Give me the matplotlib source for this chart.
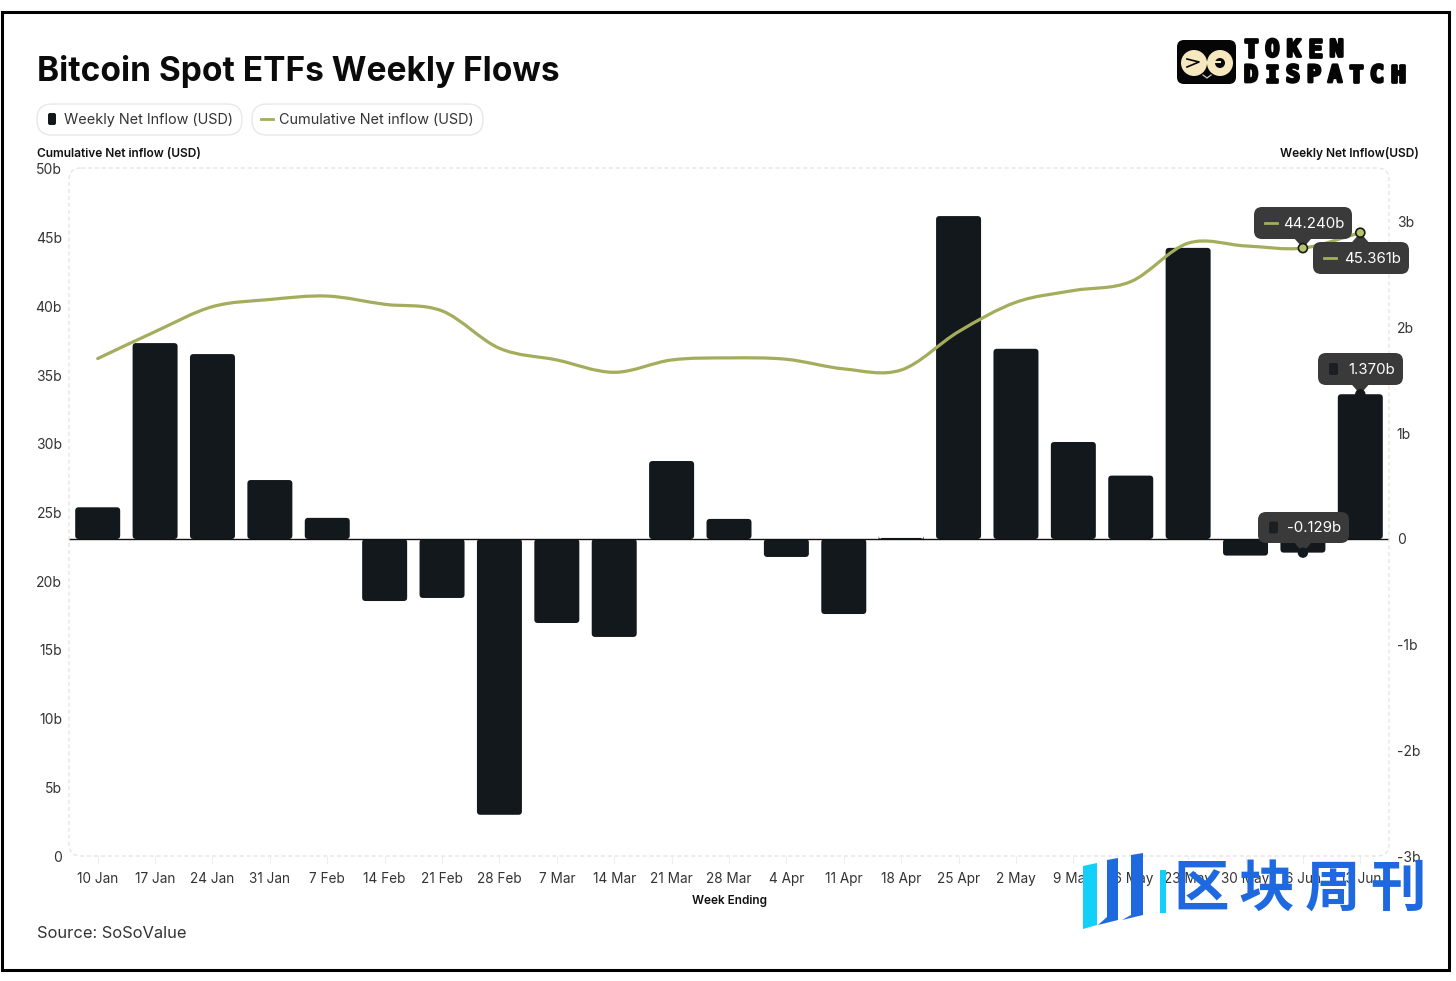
import numpy as np
from matplotlib import pyplot as plt
from matplotlib import patheffects
from matplotlib.patches import FancyBboxPatch, PathPatch, Polygon, Circle, Rectangle
from matplotlib.path import Path

plt.rcParams['font.family'] = ['Inter', 'DejaVu Sans']

weeks = ['10 Jan', '17 Jan', '24 Jan', '31 Jan', '7 Feb', '14 Feb', '21 Feb', '28 Feb',
         '7 Mar', '14 Mar', '21 Mar', '28 Mar', '4 Apr', '11 Apr', '18 Apr', '25 Apr',
         '2 May', '9 May', '16 May', '23 May', '30 May', '6 Jun', '13 Jun']
weekly_inflow = [0.30, 1.854, 1.75, 0.558, 0.20, -0.587, -0.558, -2.61,
                 -0.795, -0.927, 0.738, 0.19, -0.17, -0.71, 0.01, 3.056,
                 1.80, 0.918, 0.60, 2.755, -0.157, -0.129, 1.370]
cumulative_inflow = [36.2, 38.16, 39.98, 40.5, 40.75, 40.15, 39.67, 36.95,
                     36.1, 35.2, 36.1, 36.25, 36.15, 35.45, 35.37, 38.16,
                     40.3, 41.15, 41.8, 44.6, 44.4, 44.24, 45.361]
left_ticks = [0, 5, 10, 15, 20, 25, 30, 35, 40, 45, 50]
right_ticks = [-3, -2, -1, 0, 1, 2, 3]
right_labels = ['-3b', '-2b', '-1b', '0', '1b', '2b', '3b']

W, H = 1456, 981
BAR = '#12181c'
GREEN = '#a3ad5c'
TIP = '#3a3a3a'
GRID = '#e6e6e6'
TEXT = '#333333'

fig = plt.figure(figsize=(W / 100, H / 100), dpi=100, facecolor='white')
ax = fig.add_axes([69 / W, (H - 856) / H, 1320 / W, 688 / H])
ax_line = ax.twinx()

# overlay in image pixels for the page furniture
over = fig.add_axes([0, 0, 1, 1], zorder=10)
over.set_xlim(0, W)
over.set_ylim(H, 0)
over.axis('off')
over.patch.set_alpha(0)

x = np.arange(len(weeks))
ax.set_xlim(-0.5, len(weeks) - 0.5)
ax.set_ylim(-3, 3.511)
ax_line.set_ylim(0, 50.07)

# bars with rounded corners, geometry taken from ax.bar
bars = ax.bar(x, weekly_inflow, width=45 / 57.4, color=BAR)
for r in bars:
    r.set_visible(False)
    ax.add_patch(FancyBboxPatch((r.get_x(), min(r.get_y(), r.get_y() + r.get_height())),
                                r.get_width(), abs(r.get_height()),
                                boxstyle='round,pad=0,rounding_size=0.06',
                                mutation_aspect=57.4 / 105.7,
                                fc=BAR, ec='none', zorder=2))
ax.axhline(0, color='#111111', lw=1, zorder=3)

# smooth line through the weekly values
def smooth_path(xs, ys):
    ys = np.asarray(ys, dtype=float)
    m = np.zeros(len(ys))
    m[0], m[-1] = ys[1] - ys[0], ys[-1] - ys[-2]
    m[1:-1] = (ys[2:] - ys[:-2]) / 2
    verts = [(xs[0], ys[0])]
    codes = [Path.MOVETO]
    for i in range(len(ys) - 1):
        verts += [(xs[i] + 1 / 3, ys[i] + m[i] / 3),
                  (xs[i + 1] - 1 / 3, ys[i + 1] - m[i + 1] / 3),
                  (xs[i + 1], ys[i + 1])]
        codes += [Path.CURVE4] * 3
    return Path(verts, codes)

ax_line.add_patch(PathPatch(smooth_path(x, cumulative_inflow), fc='none', ec=GREEN,
                            lw=2.3, capstyle='round', zorder=3))

# ticks
ax.set_xticks(x)
ax.set_xticklabels(weeks, fontsize=9.8, color=TEXT)
ax.tick_params(axis='x', length=6, width=0.8, color='#eeeeee', pad=5.5)
ax.yaxis.tick_right()
ax.set_yticks(right_ticks)
ax.set_yticklabels(right_labels, fontsize=10, color=TEXT)
ax.tick_params(axis='y', length=0, pad=5.5)
ax_line.yaxis.tick_left()
ax_line.set_yticks(left_ticks)
ax_line.set_yticklabels([f'{v}b' if v else '0' for v in left_ticks], fontsize=10, color=TEXT)
ax_line.tick_params(axis='y', length=0, pad=5)
for a in (ax, ax_line):
    a.patch.set_alpha(0)
    for s in a.spines.values():
        s.set_visible(False)

# dashed plot border
over.add_patch(FancyBboxPatch((69, 168), 1320, 688, boxstyle='round,pad=0,rounding_size=12',
                              fc='none', ec=GRID, lw=1, ls=(0, (3, 2)), zorder=0))

# frame
over.add_patch(Rectangle((1.5, 11.5), 1447.5, 958, fc='none', ec='#000000', lw=2.2, zorder=1))

# header
over.text(37, 71, 'Bitcoin Spot ETFs Weekly Flows', fontsize=24.1, fontweight='bold',
          color='#0b0b0b', va='center')
over.text(37, 154, 'Cumulative Net inflow (USD)', fontsize=8.6, fontweight='semibold',
          color='#111111', va='center')
over.text(1419, 154, 'Weekly Net Inflow(USD)', fontsize=8.6, fontweight='semibold',
          color='#111111', va='center', ha='right')
over.text(729, 901, 'Week Ending', fontsize=8.5, fontweight='semibold', color='#111111',
          va='center', ha='center')
over.text(37, 934, 'Source: SoSoValue', fontsize=11.9, color=TEXT, va='center')

# legend pills
for x0, x1 in [(37, 242), (252, 483)]:
    over.add_patch(FancyBboxPatch((x0, 104), x1 - x0, 31, boxstyle='round,pad=0,rounding_size=15',
                                  fc='white', ec='#e8e8e8', lw=1))
over.add_patch(FancyBboxPatch((48, 113), 8, 12, boxstyle='round,pad=0,rounding_size=2',
                              fc=BAR, ec='none'))
over.plot([261, 273], [119, 119], color=GREEN, lw=2)
over.text(64, 120, 'Weekly Net Inflow (USD)', fontsize=10.4, color=TEXT, va='center')
over.text(279, 120, 'Cumulative Net inflow (USD)', fontsize=10.4, color=TEXT, va='center')

# tooltips
def to_px(axes, i, v):
    px, py = axes.transData.transform((i, v))
    return px, H - py

def tooltip(px, py, box, label, kind):
    x0, y0, x1, y1 = box
    if py > y1:
        tip = [(px - 9, y1 - 1), (px + 9, y1 - 1), (px, py)]
    else:
        tip = [(px - 9, y0 + 1), (px + 9, y0 + 1), (px, py)]
    over.add_patch(Polygon(tip, fc=TIP, ec='none', zorder=5))
    over.add_patch(FancyBboxPatch((x0, y0), x1 - x0, y1 - y0,
                                  boxstyle='round,pad=0,rounding_size=8',
                                  fc=TIP, ec='none', zorder=5))
    ym = (y0 + y1) / 2
    if kind == 'line':
        over.plot([x0 + 11, x0 + 23], [ym, ym], color=GREEN, lw=2, zorder=6)
        over.add_patch(Circle((px, py), 4.5, fc='#b5c46a', ec='#151a10', lw=1.2, zorder=7))
    else:
        over.add_patch(FancyBboxPatch((x0 + 11, ym - 6), 9, 12,
                                      boxstyle='round,pad=0,rounding_size=2',
                                      fc='#1c1f21', ec='none', zorder=6))
        over.add_patch(Circle((px, py), 4.5, fc='#12181c', ec='#12181c', zorder=7))
    over.text(x1 - 8, ym + 1, label, fontsize=10.8, color='white', va='center', ha='right', zorder=6)

fig.canvas.draw()
tooltip(*to_px(ax_line, 21, cumulative_inflow[21]), (1254, 207, 1352, 239), '44.240b', 'line')
tooltip(*to_px(ax_line, 22, cumulative_inflow[22]), (1313, 242, 1409, 274), '45.361b', 'line')
tooltip(*to_px(ax, 22, weekly_inflow[22]), (1318, 353, 1403, 385), '1.370b', 'bar')
tooltip(*to_px(ax, 21, weekly_inflow[21]), (1258, 512, 1349, 543), '-0.129b', 'bar')

# Token Dispatch logo
over.add_patch(FancyBboxPatch((1177, 40), 59, 44, boxstyle='round,pad=0,rounding_size=7',
                              fc='#050505', ec='none'))
over.plot([1195, 1220], [62, 62], color='#f5e8bf', lw=1.5)
for cx in (1194, 1220):
    over.add_patch(Circle((cx, 63), 13, fc='#f5e8bf', ec='none'))
over.add_patch(Circle((1220, 63), 5, fc='#050505', ec='none'))
over.plot([1187, 1199, 1187], [59, 62, 67], color='#050505', lw=1.2)
over.plot([1203, 1207, 1211], [75, 78, 75], color='#cccccc', lw=0.9)
stroke = [patheffects.withStroke(linewidth=2, foreground='#050505')]
for word, x0, step, y in [('TOKEN', 1251, 21.4, 49.5), ('DISPATCH', 1251, 21.0, 75)]:
    for i, ch in enumerate(word):
        over.text(x0 + i * step, y, ch, family='DejaVu Sans Mono', fontweight='bold', fontsize=17,
                  color='#050505', va='center', ha='center', path_effects=stroke)

# watermark
WM_BLUE = '#1f69e0'
WM_CYAN = '#12d0fa'
over.add_patch(Polygon([(1083, 866), (1097, 863), (1097, 925), (1083, 929)], fc=WM_CYAN, ec='none', zorder=8))
over.add_patch(Polygon([(1107, 860), (1118, 858), (1118, 920), (1098, 925), (1107, 917)], fc=WM_BLUE, ec='none', zorder=8))
over.add_patch(Polygon([(1131, 855), (1143, 853), (1143, 915), (1122, 920), (1131, 915)], fc=WM_BLUE, ec='none', zorder=8))
over.add_patch(Polygon([(1160, 870), (1166, 870), (1166, 913), (1160, 913)], fc=WM_CYAN, ec='none', zorder=8))
for i, ch in enumerate('区块周刊'):
    over.text(1201 + i * 65.5, 890, ch, family='Noto Sans CJK SC', fontweight='bold', fontsize=40,
              color=WM_BLUE, va='center', ha='center', zorder=8)

fig.savefig('out.png', dpi=100)
